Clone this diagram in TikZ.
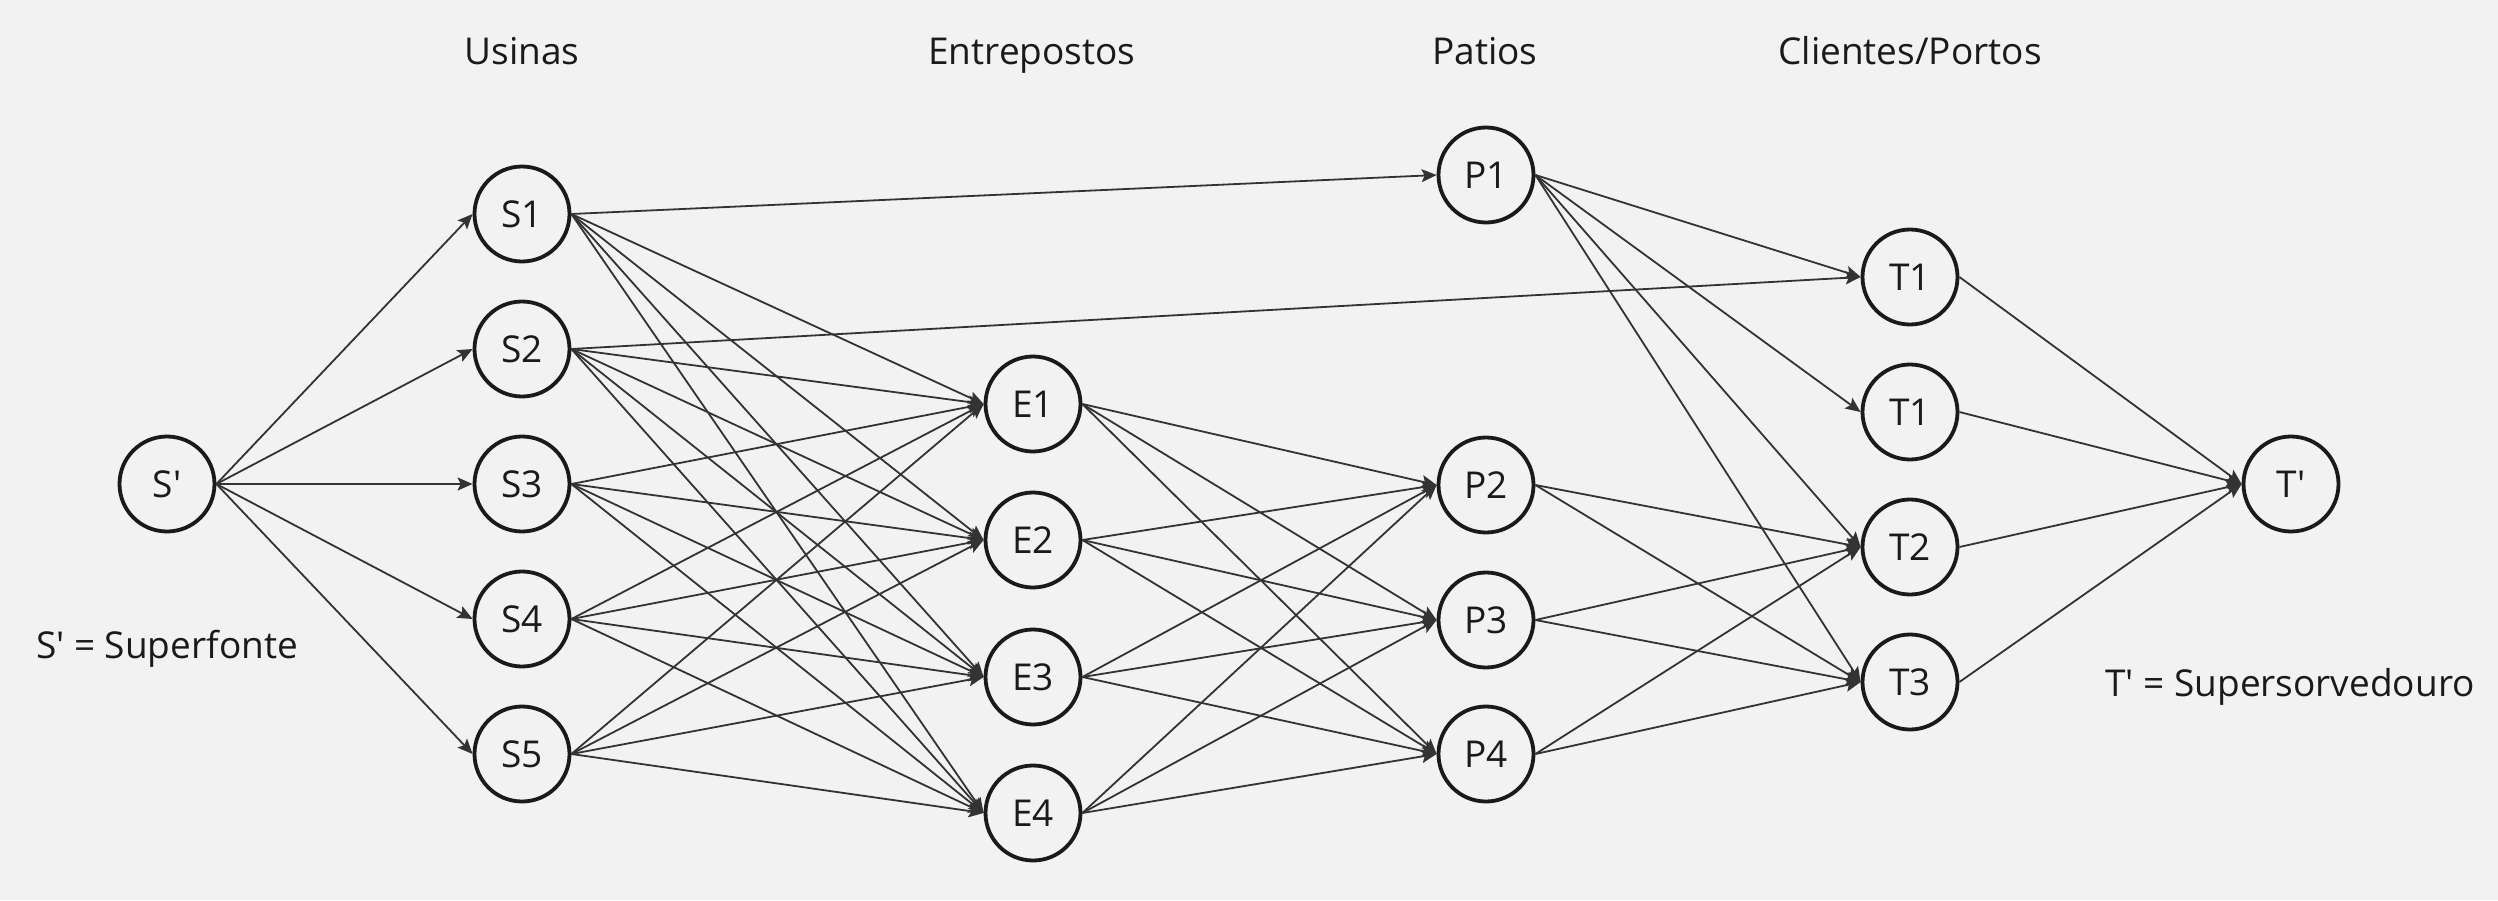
\documentclass[tikz,border=0pt]{standalone}
\usepackage{fontspec}
\setmainfont{Open Sans}
\usetikzlibrary{arrows.meta}
\definecolor{bg}{HTML}{F2F2F2}
\definecolor{edgec}{HTML}{333333}
\definecolor{ring}{HTML}{1A1A1A}
\newcommand{\apos}{\textquotesingle}
\begin{document}
\begin{tikzpicture}[x=1pt,y=-1pt,
  nd/.style={circle,draw=ring,line width=3.8pt,minimum size=95pt,inner sep=0pt,
    font=\fontsize{37}{44}\selectfont,text=ring},
  lbl/.style={anchor=base,inner sep=0pt,font=\fontsize{37}{44}\selectfont,text=ring},
  arr/.style={draw=edgec,line width=1.8pt,-{Stealth[length=15pt,width=13pt,inset=3pt]}}]
\fill[bg] (0,0) rectangle (2498,900);
\useasboundingbox (0,0) rectangle (2498,900);
% headers
\node[lbl] (hU) at (522,64) {Usinas};
\node[lbl] (hE) at (1032,64) {Entrepostos};
\node[lbl] (hP) at (1485,64) {Patios};
\node[lbl] (hC) at (1910,64) {Clientes/Portos};
\node[lbl] (lS) at (167,658) {S\apos{} = Superfonte};
\node[lbl] (lT) at (2290,696) {T\apos{} = Supersorvedouro};
% nodes
\node[nd] (Sp) at (167,484) {S\apos};
\node[nd] (S1) at (522,214) {S1};
\node[nd] (S2) at (522,349) {S2};
\node[nd] (S3) at (522,484) {S3};
\node[nd] (S4) at (522,619) {S4};
\node[nd] (S5) at (522,754) {S5};
\node[nd] (E1) at (1033,404) {E1};
\node[nd] (E2) at (1033,540) {E2};
\node[nd] (E3) at (1033,677) {E3};
\node[nd] (E4) at (1033,813) {E4};
\node[nd] (P1) at (1486,175) {P1};
\node[nd] (P2) at (1486,485) {P2};
\node[nd] (P3) at (1486,620) {P3};
\node[nd] (P4) at (1486,754) {P4};
\node[nd] (T1) at (1910,277) {T1};
\node[nd] (T1b) at (1910,412) {T1};
\node[nd] (T2) at (1910,547) {T2};
\node[nd] (T3) at (1910,682) {T3};
\node[nd] (Tp) at (2291,484) {T\apos};
% edges
\foreach \s in {S1,S2,S3,S4,S5} \draw[arr] (Sp.east) -- (\s.west);
\foreach \s in {S1,S2,S3,S4,S5} \foreach \e in {E1,E2,E3,E4} \draw[arr] (\s.east) -- (\e.west);
\draw[arr] (S1.east) -- (P1.west);
\draw[arr] (S2.east) -- (T1.west);
\foreach \e in {E1,E2,E3,E4} \foreach \p in {P2,P3,P4} \draw[arr] (\e.east) -- (\p.west);
\foreach \t in {T1,T1b,T2,T3} \draw[arr] (P1.east) -- (\t.west);
\foreach \p in {P2,P3,P4} \foreach \t in {T2,T3} \draw[arr] (\p.east) -- (\t.west);
\foreach \t in {T1,T1b,T2,T3} \draw[arr] (\t.east) -- (Tp.west);
\end{tikzpicture}
\end{document}
